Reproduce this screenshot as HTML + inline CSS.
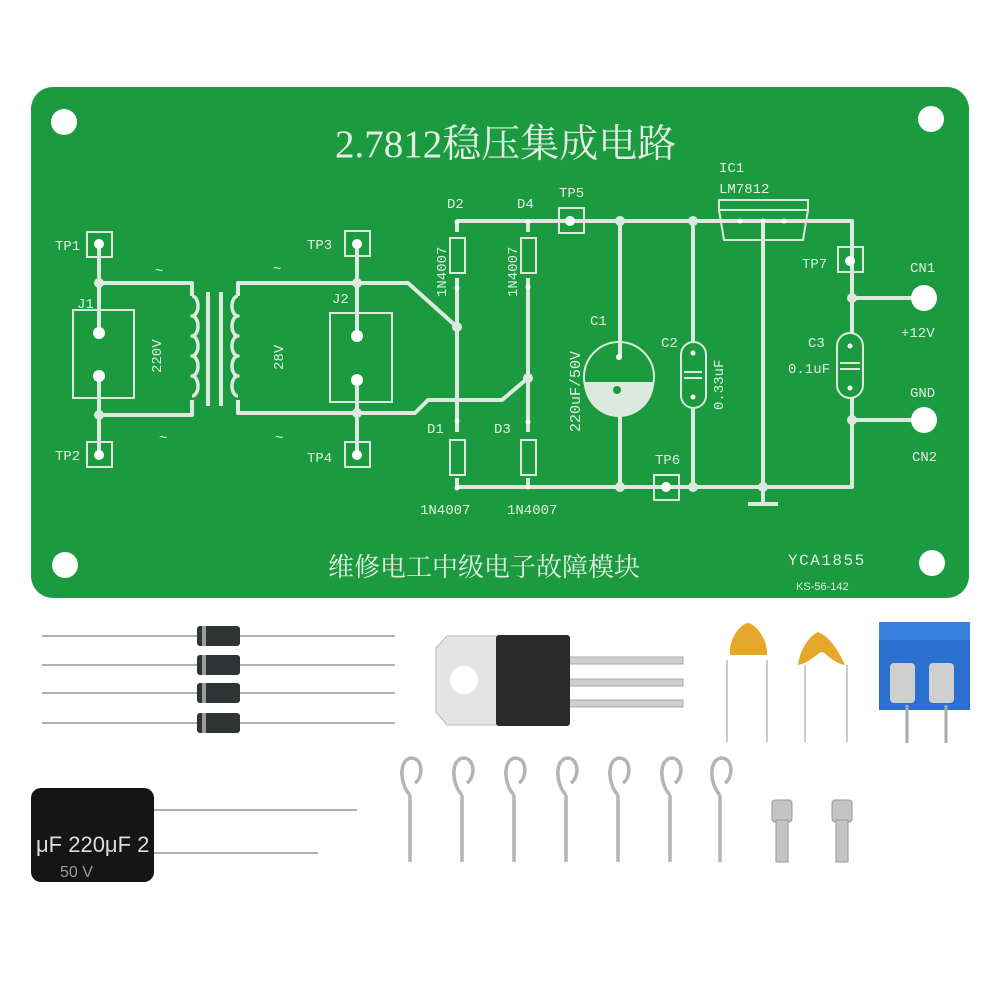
<!DOCTYPE html>
<html><head><meta charset="utf-8"><style>
html,body{margin:0;padding:0;background:#fff;}
svg{display:block;}
.t{fill:#e2eee4;font-family:"Liberation Mono","DejaVu Sans Mono",monospace;}
</style></head><body>
<svg width="1000" height="1000" viewBox="0 0 1000 1000" xmlns="http://www.w3.org/2000/svg">
<rect width="1000" height="1000" fill="#fff"/>
<!-- PCB -->
<rect x="31" y="87" width="938" height="511" rx="22" fill="#1b9a3f"/>
<g fill="#fff">
<circle cx="64" cy="122" r="13"/><circle cx="931" cy="119" r="13"/>
<circle cx="65" cy="565" r="13"/><circle cx="932" cy="563" r="13"/>
</g>
<g stroke="#dbe9de" stroke-width="4" fill="none" stroke-linejoin="round">
<path d="M99,244 V333 M99,376 V455"/>
<path d="M99,283 H192 V296"/>
<path d="M99,415 H192 V400"/>
<path d="M192,296 a6,10 0 0 1 0,20 a6,10 0 0 1 0,20 a6,10 0 0 1 0,20 a6,10 0 0 1 0,20 a6,10 0 0 1 0,20" stroke-width="3.5"/>
<line x1="208" y1="292" x2="208" y2="406"/>
<line x1="221" y1="292" x2="221" y2="406"/>
<path d="M238,296 a6,10 0 0 0 0,20 a6,10 0 0 0 0,20 a6,10 0 0 0 0,20 a6,10 0 0 0 0,20 a6,10 0 0 0 0,20" stroke-width="3.5"/>
<path d="M238,296 V283 H408 L457,327"/>
<path d="M238,400 V413 H415 L428,400 H502 L528,378"/>
<path d="M357,244 V336 M357,380 V455"/>
<path d="M457,222 V232 M457,278 V288 M457,288 V421 M457,421 V432 M457,478 V488"/>
<path d="M528,222 V232 M528,278 V287 M528,287 V422 M528,422 V432 M528,478 V487"/>
<path d="M457,221 H852 V298 M852,298 V333 M852,398 V487 H457"/>
<path d="M852,298 H920 M852,420 H920"/>
<path d="M620,221 V357 M620,395 V487"/>
<path d="M693,221 V342 M693,408 V487"/>
<path d="M763,221 V504 M748,504 H778" />
</g>
<g stroke="#dbe9de" stroke-width="2" fill="none">
<rect x="87" y="232" width="25" height="25"/><rect x="87" y="442" width="25" height="25"/>
<rect x="345" y="231" width="25" height="25"/><rect x="345" y="442" width="25" height="25"/>
<rect x="73" y="310" width="61" height="88"/><rect x="330" y="313" width="62" height="89"/>
<rect x="450" y="238" width="15" height="35"/><rect x="521" y="238" width="15" height="35"/>
<rect x="450" y="440" width="15" height="35"/><rect x="521" y="440" width="15" height="35"/>
<rect x="559" y="208" width="25" height="25"/><rect x="654" y="475" width="25" height="25"/>
<rect x="838" y="247" width="25" height="25"/>
<rect x="681" y="342" width="25" height="66" rx="12.5"/>
<rect x="837" y="333" width="26" height="65" rx="13"/>
<path d="M719,200 H808 V210 L803,240 H724 L719,210 Z M719,210 H808"/>
<line x1="684" y1="372" x2="702" y2="372"/><line x1="684" y1="378" x2="702" y2="378"/>
<line x1="840" y1="363" x2="860" y2="363"/><line x1="840" y1="369" x2="860" y2="369"/>
<circle cx="619" cy="377" r="35"/>
</g>
<path d="M584,382 A35,35 0 0 0 654,382 Z" fill="#dbe9de"/>
<circle cx="617" cy="390" r="4" fill="#1b9a3f"/>
<g fill="#dbe9de">
<circle cx="99" cy="283" r="5"/><circle cx="99" cy="415" r="5"/>
<circle cx="357" cy="283" r="5"/><circle cx="357" cy="413" r="5"/>
<circle cx="457" cy="327" r="5"/><circle cx="528" cy="378" r="5"/>
<circle cx="620" cy="221" r="5"/><circle cx="693" cy="221" r="5"/>
<circle cx="620" cy="487" r="5"/><circle cx="693" cy="487" r="5"/><circle cx="763" cy="487" r="5"/>
<circle cx="852" cy="298" r="5"/><circle cx="852" cy="420" r="5"/>
</g>
<g fill="#fff">
<circle cx="99" cy="244" r="5"/><circle cx="99" cy="455" r="5"/><circle cx="357" cy="244" r="5"/><circle cx="357" cy="455" r="5"/>
<circle cx="99" cy="333" r="6"/><circle cx="99" cy="376" r="6"/><circle cx="357" cy="336" r="6"/><circle cx="357" cy="380" r="6"/>
<circle cx="570" cy="221" r="5"/><circle cx="666" cy="487" r="5"/><circle cx="850" cy="261" r="5"/>
<circle cx="924" cy="298" r="13"/><circle cx="924" cy="420" r="13"/>
<circle cx="457" cy="222" r="2.5"/><circle cx="457" cy="288" r="2.5"/><circle cx="457" cy="421" r="2.5"/><circle cx="457" cy="488" r="2.5"/>
<circle cx="528" cy="222" r="2.5"/><circle cx="528" cy="287" r="2.5"/><circle cx="528" cy="422" r="2.5"/><circle cx="528" cy="487" r="2.5"/>
<circle cx="740" cy="221" r="2.5"/><circle cx="763" cy="221" r="2.5"/><circle cx="784" cy="221" r="2.5"/>
<circle cx="693" cy="353" r="2.5"/><circle cx="693" cy="397" r="2.5"/><circle cx="850" cy="346" r="2.5"/><circle cx="850" cy="388" r="2.5"/>
<circle cx="619" cy="357" r="3"/>
</g>
<g class="t" font-size="14">
<text x="55" y="250">TP1</text><text x="55" y="460">TP2</text>
<text x="307" y="249">TP3</text><text x="307" y="462">TP4</text>
<text x="77" y="308">J1</text><text x="332" y="303">J2</text>
<text x="447" y="208">D2</text><text x="517" y="208">D4</text>
<text x="427" y="433">D1</text><text x="494" y="433">D3</text>
<text x="559" y="197">TP5</text><text x="655" y="464">TP6</text><text x="802" y="268">TP7</text>
<text x="719" y="172">IC1</text><text x="719" y="193">LM7812</text>
<text x="590" y="325">C1</text><text x="661" y="347">C2</text><text x="808" y="347">C3</text>
<text x="788" y="373">0.1uF</text>
<text x="910" y="272">CN1</text><text x="901" y="337">+12V</text><text x="910" y="397">GND</text><text x="912" y="461">CN2</text>
<text x="420" y="514">1N4007</text><text x="507" y="514">1N4007</text>
<text transform="translate(161,373) rotate(-90)">220V</text>
<text transform="translate(283,370) rotate(-90)">28V</text>
<text transform="translate(446,297) rotate(-90)">1N4007</text>
<text transform="translate(517,297) rotate(-90)">1N4007</text>
<text transform="translate(580,432) rotate(-90)" font-size="15">220uF/50V</text>
<text transform="translate(723,410) rotate(-90)">0.33uF</text>
<text x="788" y="565" font-size="16" letter-spacing="1.5">YCA1855</text>
<text x="796" y="590" font-size="11" font-family="Liberation Sans,sans-serif">KS-56-142</text>
<text x="155" y="275" font-size="14">~</text><text x="273" y="273">~</text>
<text x="159" y="442">~</text><text x="275" y="442">~</text>
</g>
<text x="335" y="157" fill="#e2eee4" font-size="39" font-family="'Liberation Serif','Noto Serif CJK SC',serif">2.7812稳压集成电路</text>
<text x="328" y="576" fill="#e2eee4" font-size="26" font-family="'Liberation Serif','Noto Serif CJK SC',serif">维修电工中级电子故障模块</text>

<g stroke="#b0b0b0" stroke-width="2">
<line x1="42" y1="636" x2="395" y2="636"/><line x1="42" y1="665" x2="395" y2="665"/>
<line x1="42" y1="693" x2="395" y2="693"/><line x1="42" y1="723" x2="395" y2="723"/>
</g>
<g fill="#2e3333">
<rect x="197" y="626" width="43" height="20" rx="3"/><rect x="197" y="655" width="43" height="20" rx="3"/>
<rect x="197" y="683" width="43" height="20" rx="3"/><rect x="197" y="713" width="43" height="20" rx="3"/>
</g>
<g fill="#9a9a9a">
<rect x="202" y="626" width="4" height="20"/><rect x="202" y="655" width="4" height="20"/>
<rect x="202" y="683" width="4" height="20"/><rect x="202" y="713" width="4" height="20"/>
</g>
<g fill="#cfcfcf" stroke="#aaa">
<rect x="568" y="657" width="115" height="7"/><rect x="568" y="679" width="115" height="7"/><rect x="568" y="700" width="115" height="7"/>
</g>
<path d="M447,636 H497 V725 H447 L436,712 V648 Z" fill="#e4e4e4" stroke="#bbb"/>
<circle cx="464" cy="680" r="14" fill="#fff"/>
<rect x="496" y="635" width="74" height="91" rx="3" fill="#2a2a2a"/>
<g stroke="#bbb" stroke-width="1.5">
<line x1="727" y1="660" x2="727" y2="742"/><line x1="767" y1="660" x2="767" y2="742"/>
<line x1="805" y1="665" x2="805" y2="742"/><line x1="847" y1="665" x2="847" y2="742"/>
</g>
<path d="M730,655 C728,640 740,624 748,623 C756,624 768,640 767,655 Z" fill="#e6a82a"/>
<path d="M798,665 C800,650 808,637 818,632 C830,637 838,650 845,665 C833,663 825,652 822,652 C818,652 810,663 798,665 Z" fill="#e6a82a"/>
<rect x="879" y="622" width="91" height="88" fill="#2b6fd0"/>
<rect x="879" y="622" width="91" height="18" fill="#3a82e0"/>
<rect x="890" y="663" width="25" height="40" rx="4" fill="#cfcfcf"/><rect x="929" y="663" width="25" height="40" rx="4" fill="#cfcfcf"/>
<g stroke="#aaa" stroke-width="3"><line x1="907" y1="705" x2="907" y2="743"/><line x1="946" y1="705" x2="946" y2="743"/></g>
<g stroke="#b0b0b0" stroke-width="2"><line x1="150" y1="810" x2="357" y2="810"/><line x1="150" y1="853" x2="318" y2="853"/></g>
<rect x="31" y="788" width="123" height="94" rx="10" fill="#151515"/>
<text x="36" y="852" fill="#ddd" font-size="22" font-family="'Liberation Sans',sans-serif">μF 220μF 2</text>
<text x="60" y="877" fill="#999" font-size="16" font-family="'Liberation Sans',sans-serif">50 V</text>
<g stroke="#b4b4b4" stroke-width="3.5" fill="none">
<g id="eye"><path d="M410,862 V795"/><path d="M410,795 C400,785 398,760 411,758 C424,758 423,778 415,783"/></g>
<use href="#eye" x="52"/><use href="#eye" x="104"/><use href="#eye" x="156"/>
<use href="#eye" x="208"/><use href="#eye" x="260"/><use href="#eye" x="310"/>
</g>
<g fill="#c4c4c4" stroke="#999">
<rect x="772" y="800" width="20" height="22" rx="3"/><rect x="776" y="820" width="12" height="42"/>
<rect x="832" y="800" width="20" height="22" rx="3"/><rect x="836" y="820" width="12" height="42"/>
</g>
</svg>
</body></html>
